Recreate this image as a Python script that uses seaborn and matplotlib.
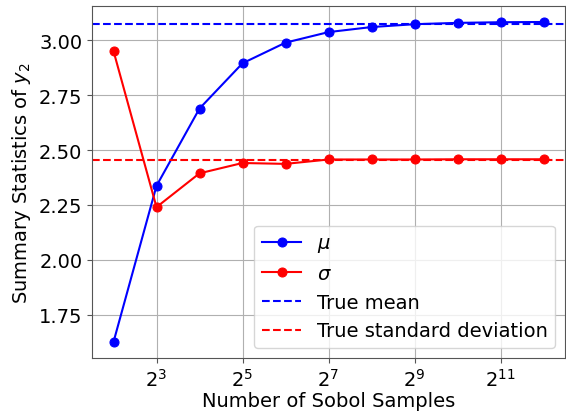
import matplotlib
matplotlib.use("Agg")
import matplotlib.pyplot as plt
import seaborn as sns
import numpy as np
import pandas as pd
from matplotlib.ticker import LogFormatterSciNotation, NullLocator, FixedLocator

# Data
samples = [4, 8, 16, 32, 64, 128, 256, 512, 1024, 2048, 4096]
mu_values = [1.626, 2.337, 2.689, 2.895, 2.989, 3.037, 3.060, 3.073, 3.079, 3.082, 3.083]
sigma_values = [2.951, 2.240, 2.394, 2.441, 2.437, 2.457, 2.457, 2.457, 2.458, 2.458, 2.458]
true_mean = 3.076
true_std = 2.454
xticks = [8, 32, 128, 512, 2048]

df = pd.DataFrame({"n": samples, "mu": mu_values, "sigma": sigma_values})

fs = 14
plt.rcParams["font.size"] = fs
fig = plt.figure(figsize=(5.66, 4.14), dpi=100)
ax = fig.add_axes([92/566, 1 - 359/414, (565 - 92)/566, (359 - 7)/414])

sns.lineplot(data=df, x="n", y="mu", marker="o", color="blue", label=r"$\mu$",
             ax=ax, markeredgecolor="blue", markersize=6.5, linewidth=1.5)
sns.lineplot(data=df, x="n", y="sigma", marker="o", color="red", label=r"$\sigma$",
             ax=ax, markeredgecolor="red", markersize=6.5, linewidth=1.5)
ax.axhline(true_mean, color="blue", linestyle="--", linewidth=1.5, label="True mean")
ax.axhline(true_std, color="red", linestyle="--", linewidth=1.5, label="True standard deviation")

ax.set_xscale("log", base=2)
ax.xaxis.set_major_locator(FixedLocator(xticks))
ax.xaxis.set_major_formatter(LogFormatterSciNotation(base=2))
ax.xaxis.set_minor_locator(NullLocator())
ax.set_yticks([1.75, 2.00, 2.25, 2.50, 2.75, 3.00])
ax.set_yticklabels(["1.75", "2.00", "2.25", "2.50", "2.75", "3.00"])
ax.tick_params(labelsize=fs, color="#555555")
for s in ax.spines.values():
    s.set_color("#555555")
ax.grid(True, color="#b0b0b0", linewidth=0.8)
ax.set_axisbelow(True)
ax.set_xlabel("Number of Sobol Samples", fontsize=fs, labelpad=1)
ax.set_ylabel(r"Summary Statistics of $y_2$", fontsize=fs)
ax.legend(loc="lower right", fontsize=fs)

fig.savefig("out.png", dpi=100)
